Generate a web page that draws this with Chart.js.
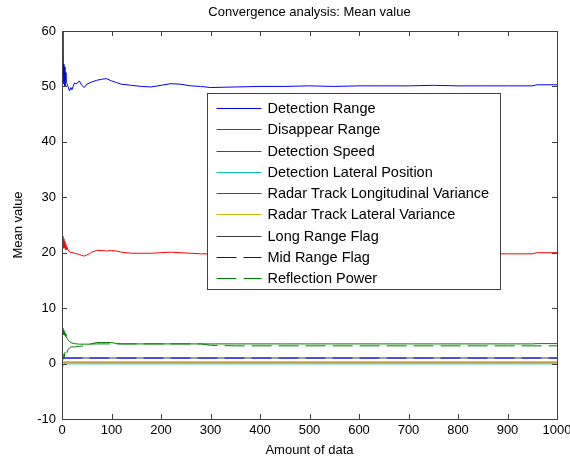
<!DOCTYPE html>
<html>
<head>
<meta charset="utf-8">
<script src="https://cdn.jsdelivr.net/npm/chart.js@4/dist/chart.umd.min.js"></script>
<style>
html,body{margin:0;padding:0;background:#ffffff;}
#caixa{width:570px;height:461px;}
</style>
</head>
<body>
<div id="caixa"><canvas id="grafico" width="570" height="461"></canvas></div>
<script>

// =====================================
// DADOS
// =====================================

const xDetalhe = [1,2,3,4,5,6,7,8,10,12,15,18,20,25,30,35,40,45,50,55,60,70,80,90,100,110,120,140,160,180,200,220,240,260,280,300,350,400,450,500,550,600,650,700,750,800,850,900,950,960,1000];

const detectionRange = [60,52,54,50.5,53.5,50,52.5,50.8,50.5,50,49.2,49.8,49.4,50.6,50.5,51,50.2,49.8,50.4,50.6,50.8,51.1,51.3,51.4,51.0,50.7,50.4,50.2,50.0,49.9,50.2,50.5,50.4,50.1,50.0,49.8,49.9,50.0,50.0,50.1,50.0,50.1,50.1,50.1,50.2,50.1,50.1,50.1,50.1,50.3,50.3];

const disappearRange = [6.4,5.5,6.0,5.2,5.6,5.1,5.3,4.9,4.6,4.3,4.0,3.8,3.7,3.6,3.55,3.5,3.5,3.5,3.5,3.5,3.55,3.8,3.8,3.8,3.8,3.6,3.55,3.55,3.55,3.55,3.55,3.55,3.55,3.55,3.55,3.55,3.55,3.55,3.55,3.55,3.55,3.55,3.55,3.55,3.55,3.55,3.55,3.55,3.55,3.6,3.6];

const detectionSpeed = [23,21,22.5,20.8,22,21,21.5,20.5,21,20.5,20.2,20,20.1,19.9,19.8,19.7,19.5,19.4,19.6,19.8,20.1,20.4,20.4,20.3,20.4,20.3,20.1,19.9,19.9,19.9,20.0,20.1,20.0,19.9,19.8,19.8,19.8,19.8,19.8,19.8,19.8,19.8,19.8,19.8,19.8,19.8,19.8,19.8,19.8,20.0,20.0];

const reflectionPower = [0.5,1.2,0.8,1.8,1.2,2.0,1.5,2.2,2.0,2.5,2.8,3.0,3.0,3.0,3.05,3.1,3.15,3.2,3.35,3.5,3.55,3.55,3.55,3.55,3.55,3.55,3.55,3.55,3.55,3.55,3.55,3.55,3.55,3.55,3.55,3.3,3.2,3.2,3.2,3.2,3.2,3.2,3.2,3.2,3.2,3.2,3.2,3.2,3.2,3.2,3.2];

const xLateral = [1,2,3,4,1000];
const lateralPosition = [-0.6,-0.3,-0.1,-0.05,-0.05];

const xPlano = [1,1000];
const longVariance = [0.25,0.25];
const latVariance = [0.25,0.25];
const longRangeFlag = [1,1];
const midRangeFlag = [1,1];

const rotulos = [
    "Detection Range",
    "Disappear Range",
    "Detection Speed",
    "Detection Lateral Position",
    "Radar Track Longitudinal Variance",
    "Radar Track Lateral Variance",
    "Long Range Flag",
    "Mid Range Flag",
    "Reflection Power"
];

const cores = ["#0000ff","#008000","#ff0000","#00bfbf","#bf00bf","#bfbf00","#404040","#0000ff","#008000"];

const FONTE = "Arial, 'Liberation Sans', sans-serif";


// =====================================
// SERIES
// =====================================

function pontos(xs, ys){
    return xs.map((v,i)=>({x:v,y:ys[i]}));
}

const series = [
    pontos(xDetalhe, detectionRange),
    pontos(xDetalhe, disappearRange),
    pontos(xDetalhe, detectionSpeed),
    pontos(xLateral, lateralPosition),
    pontos(xPlano, longVariance),
    pontos(xPlano, latVariance),
    pontos(xPlano, longRangeFlag),
    pontos(xPlano, midRangeFlag),
    pontos(xDetalhe, reflectionPower)
];

const datasets = series.map((dados,i)=>({
    label: rotulos[i],
    data: dados,
    borderColor: cores[i],
    backgroundColor: cores[i],
    borderWidth: 1,
    borderDash: i >= 7 ? [20,7] : [],
    pointRadius: 0,
    tension: 0,
    fill: false,
    order: 9 - i
}));


// =====================================
// MOLDURA E TICKS INTERNOS
// =====================================

const moldura = {
    id: "moldura",
    afterDatasetsDraw(chart){
        const ctx = chart.ctx;
        const a = chart.chartArea;
        const sx = chart.scales.x;
        const sy = chart.scales.y;
        ctx.save();
        ctx.strokeStyle = "#404040";
        ctx.lineWidth = 1;
        ctx.beginPath();
        sx.ticks.forEach(t=>{
            const px = Math.round(sx.getPixelForValue(t.value)) + 0.5;
            ctx.moveTo(px, a.bottom); ctx.lineTo(px, a.bottom - 5);
            ctx.moveTo(px, a.top); ctx.lineTo(px, a.top + 5);
        });
        sy.ticks.forEach(t=>{
            const py = Math.round(sy.getPixelForValue(t.value)) + 0.5;
            ctx.moveTo(a.left, py); ctx.lineTo(a.left + 5, py);
            ctx.moveTo(a.right, py); ctx.lineTo(a.right - 5, py);
        });
        ctx.stroke();
        ctx.strokeRect(Math.round(a.left) + 0.5, Math.round(a.top) + 0.5,
            Math.round(a.right - a.left), Math.round(a.bottom - a.top));
        ctx.restore();
    }
};


// =====================================
// LEGENDA (CAIXA DENTRO DO GRAFICO)
// =====================================

const legenda = {
    id: "legenda",
    afterDraw(chart){
        const ctx = chart.ctx;
        const a = chart.chartArea;
        const x0 = Math.round(a.left) + 145.5;
        const y0 = Math.round(a.top) + 62.5;
        const w = 293, h = 196;
        ctx.save();
        ctx.fillStyle = "#ffffff";
        ctx.fillRect(x0, y0, w, h);
        ctx.strokeStyle = "#404040";
        ctx.lineWidth = 1;
        ctx.strokeRect(x0, y0, w, h);
        ctx.font = "14.5px " + FONTE;
        ctx.textBaseline = "middle";
        chart.data.datasets.forEach((ds,i)=>{
            const ly = Math.round(y0 + 14.5 + i * 21.25) + 0.5;
            ctx.lineWidth = 1;
            ctx.strokeStyle = cores[i];
            ctx.setLineDash(ds.borderDash);
            ctx.beginPath();
            ctx.moveTo(x0 + 9, ly);
            ctx.lineTo(x0 + 54, ly);
            ctx.stroke();
            ctx.setLineDash([]);
            ctx.fillStyle = "#000000";
            ctx.fillText(ds.label, x0 + 60, ly);
        });
        ctx.restore();
    }
};


// =====================================
// GRAFICO
// =====================================

new Chart(document.getElementById("grafico"),{

    type: "line",

    data: { datasets },

    options: {

        responsive: false,
        animation: false,
        events: [],

        layout: { padding: { left: 0, right: 13, top: 0, bottom: 0 } },

        plugins: {
            legend: { display: false },
            tooltip: { enabled: false },
            title: {
                display: true,
                text: "Convergence analysis: Mean value",
                fullSize: false,
                color: "#000000",
                font: { family: FONTE, size: 13, weight: "normal", lineHeight: 1.2 },
                padding: { top: 5, bottom: 10.4 }
            }
        },

        scales: {

            x: {
                type: "linear",
                min: 0,
                max: 1000,
                grid: { display: false, drawTicks: false },
                border: { display: false },
                ticks: {
                    stepSize: 100,
                    autoSkip: false,
                    maxRotation: 0,
                    padding: 4,
                    color: "#000000",
                    font: { family: FONTE, size: 13 },
                    callback: v => String(v)
                },
                title: {
                    display: true,
                    text: "Amount of data",
                    color: "#000000",
                    font: { family: FONTE, size: 13, lineHeight: 1.2 },
                    padding: { top: 0, bottom: 3.2 }
                },
                afterFit(scale){
                    scale.height = 42;
                    scale.paddingLeft = 0;
                    scale.paddingRight = 0;
                }
            },

            y: {
                min: -10,
                max: 60,
                grid: { display: false, drawTicks: false },
                border: { display: false },
                ticks: {
                    stepSize: 10,
                    padding: 6,
                    color: "#000000",
                    font: { family: FONTE, size: 13 },
                    callback: v => String(v)
                },
                title: {
                    display: true,
                    text: "Mean value",
                    color: "#000000",
                    font: { family: FONTE, size: 13, lineHeight: 1.2 },
                    padding: { top: 10.2, bottom: 0 }
                },
                afterFit(scale){
                    scale.width = 62;
                    scale.paddingTop = 0;
                    scale.paddingBottom = 0;
                }
            }

        }

    },

    plugins: [moldura, legenda]

});

</script>
</body>
</html>
